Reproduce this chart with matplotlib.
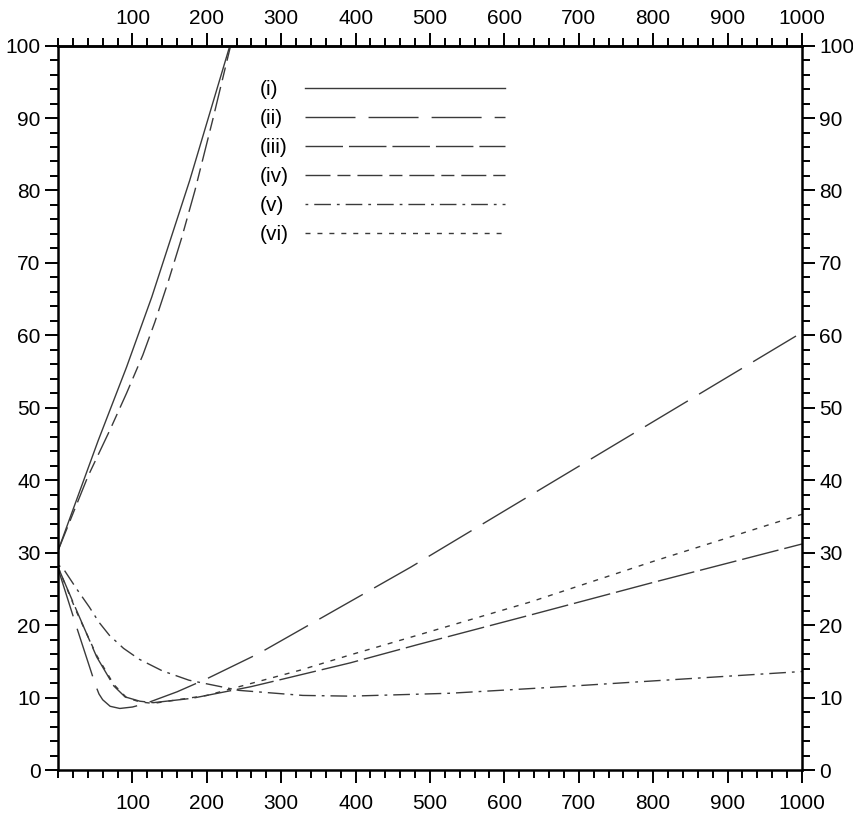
import matplotlib.pyplot as plt
from matplotlib.ticker import MultipleLocator, FixedLocator

plt.rcParams['font.family'] = ['Liberation Sans', 'DejaVu Sans']
plt.rcParams['lines.scale_dashes'] = False

# curve (i) - solid, rising branch
x_i = [0, 54, 92, 126, 177, 231]
y_i = [30.3, 45.5, 55.6, 65.3, 81.4, 100]

# curve (ii) - long dashes, dips then climbs steadily
x_ii = [0, 25, 45, 50, 55, 60, 70, 83, 100, 118, 160, 200, 270, 474, 594, 1000]
y_ii = [27.8, 19.7, 13.4, 11.8, 10.5, 9.7, 8.8, 8.5, 8.7, 9.2, 10.8, 12.6, 16.1, 28.0, 35.4, 60.4]

# curve (iii) - dashes
x_iii = [0, 25, 52, 75, 90, 110, 128, 180, 259, 304, 393, 483, 635, 800, 1000]
y_iii = [28.0, 22.0, 15.6, 11.6, 10.1, 9.5, 9.3, 9.9, 11.5, 12.6, 14.8, 17.3, 21.4, 25.9, 31.2]

# curve (iv) - long/short dashes, rising branch
x_iv = [0, 40, 70, 92, 114, 130, 148, 166, 184, 208, 232]
y_iv = [30.3, 40.5, 47.0, 52.0, 57.3, 61.8, 67.4, 73.4, 80.0, 89.8, 100]

# curve (v) - dash-dot
x_v = [0, 7, 25, 42, 55, 69, 88, 109, 140, 176, 243, 329, 393, 527, 661, 1000]
y_v = [28.3, 27.8, 25.0, 22.5, 20.4, 18.6, 16.8, 15.3, 13.7, 12.4, 11.0, 10.3, 10.2, 10.6, 11.4, 13.6]

# curve (vi) - short dashes
x_vi = [0, 25, 52, 75, 92, 110, 128, 200, 326, 393, 483, 635, 800, 1000]
y_vi = [28.0, 21.8, 15.8, 11.8, 10.0, 9.4, 9.2, 10.3, 13.8, 15.9, 18.6, 23.2, 28.8, 35.3]

labels = ['(i)', '(ii)', '(iii)', '(iv)', '(v)', '(vi)']
xticks = list(range(100, 1001, 100))

fig = plt.figure(figsize=(8.54, 8.14), dpi=100)
ax = fig.add_axes([0.068, 0.054, 0.871, 0.890])

col = '#3a3a3a'
lw = 1.0
h1, = ax.plot(x_i, y_i, color=col, lw=lw, linestyle='-')
h2, = ax.plot(x_ii, y_ii, color=col, lw=lw, dashes=(36, 9.4))
h3, = ax.plot(x_iii, y_iii, color=col, lw=lw, dashes=(27, 4.3))
h4, = ax.plot(x_iv, y_iv, color=col, lw=lw, dashes=(18, 5, 9.4, 5))
h5, = ax.plot(x_v, y_v, color=col, lw=lw, dashes=(2, 4.3, 12, 4.3))
h6, = ax.plot(x_vi, y_vi, color=col, lw=lw, dashes=(3.6, 5))

ax.set_xlim(0, 1000)
ax.set_ylim(0, 100)

ax.xaxis.set_major_locator(FixedLocator(xticks))
ax.xaxis.set_minor_locator(MultipleLocator(20))
ax.yaxis.set_major_locator(MultipleLocator(10))
ax.yaxis.set_minor_locator(MultipleLocator(2))

for s in ax.spines.values():
    s.set_linewidth(1.8)

ax.tick_params(which='both', direction='out', top=False, right=True,
               labelright=True, width=1.4, labelsize=15)
ax.tick_params(which='major', length=9.5)
ax.tick_params(which='minor', length=6)
ax.tick_params(axis='x', which='major', pad=8)
ax.tick_params(axis='y', which='major', pad=3)

# top scale repeats the bottom one, labels a little closer to the frame
top = ax.secondary_xaxis('top')
top.xaxis.set_major_locator(FixedLocator(xticks))
top.xaxis.set_minor_locator(MultipleLocator(20))
top.spines['top'].set_linewidth(1.8)
top.tick_params(which='both', direction='out', width=1.4, labelsize=15)
top.tick_params(which='major', length=9.5, pad=3)
top.tick_params(which='minor', length=6)

leg = ax.legend([h1, h2, h3, h4, h5, h6], labels, loc='upper right',
                bbox_to_anchor=(0.601, 0.9525), frameon=False, markerfirst=False,
                fontsize=15, handlelength=9.6, handletextpad=0.8,
                labelspacing=0.48, borderpad=0, borderaxespad=0)

# labels sit left-aligned in front of the keys: pad the narrower rows
fig.canvas.draw()
r = fig.canvas.get_renderer()
rows = leg._legend_handle_box.get_children()[0].get_children()
widths = [t.get_window_extent(r).width for t in leg.get_texts()]
wmax = max(widths)
for row, w in zip(rows, widths):
    row.sep += (wmax - w) * 72 / fig.dpi

fig.savefig('out.png', dpi=100)
